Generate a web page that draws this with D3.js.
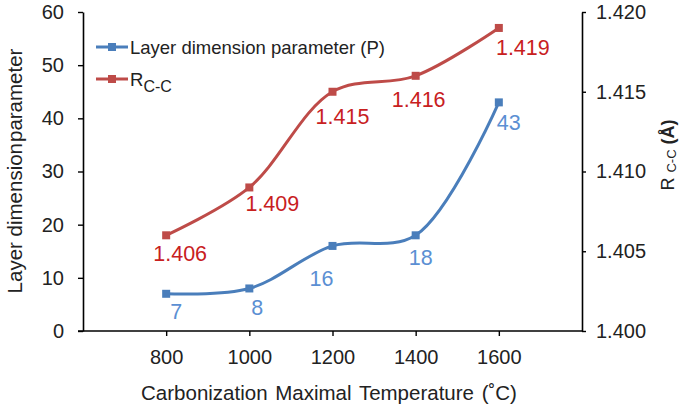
<!DOCTYPE html>
<html><head><meta charset="utf-8">
<script src="https://cdn.jsdelivr.net/npm/d3@7"></script>
<style>body{margin:0;background:#fff}svg{font-family:Arial,"Liberation Sans",sans-serif}</style>
</head><body><svg id="c" width="685" height="409"></svg>
<script>
const temps = [800, 1000, 1200, 1400, 1600];
const pValues = [7, 8, 16, 18, 43];
const rValues = [1.406, 1.409, 1.415, 1.416, 1.419];
const pLabels = ["7", "8", "16", "18", "43"];
const rLabels = ["1.406", "1.409", "1.415", "1.416", "1.419"];
const leftTicks = [0, 10, 20, 30, 40, 50, 60];
const rightTicks = [1.400, 1.405, 1.410, 1.415, 1.420];

const svg = d3.select("#c");
const L = 83, R = 582, T = 12, B = 331;
const x = d3.scaleLinear().domain([600, 1800]).range([L, R]);
const yL = d3.scaleLinear().domain([0, 60]).range([B, T]);
const yR = d3.scaleLinear().domain([1.400, 1.420]).range([B, T]);
const blue = "#4a7ebb", red = "#be4b48", blueT = "#5b8fd3", redT = "#c8201e";
const FONT = "Arial, 'Liberation Sans', sans-serif";

const gl = svg.append("g").attr("transform", `translate(${L},0)`)
  .call(d3.axisLeft(yL).tickValues(leftTicks).tickSize(5).tickPadding(14).tickSizeOuter(0));
const gr = svg.append("g").attr("transform", `translate(${R},0)`)
  .call(d3.axisRight(yR).tickValues(rightTicks).tickFormat(d3.format(".3f")).tickSize(4).tickPadding(10).tickSizeOuter(0));
const gb = svg.append("g").attr("transform", `translate(0,${B})`)
  .call(d3.axisBottom(x).tickValues(temps).tickFormat(d3.format("d")).tickSize(5).tickPadding(14).tickSizeOuter(0));
gb.select(".domain").attr("d", `M${L-5},0H${R}`);
[gl, gr, gb].forEach(g => {
  g.selectAll(".domain").attr("stroke", "#000").attr("stroke-width", 1.6);
  g.selectAll(".tick line").attr("stroke", "#000").attr("stroke-width", 1.4);
  g.selectAll("text").attr("font-size", 20).attr("fill", "#222").attr("font-family", FONT);
});

// axis titles
const lt0 = svg.append("text").attr("transform", "translate(22,171) rotate(-90)").attr("text-anchor", "middle")
  .attr("font-size", 20.5).attr("fill", "#222");
lt0.append("tspan").text("Layer dimension");
lt0.append("tspan").attr("dx", 1).text("parameter");
const rt = svg.append("text").attr("transform", "translate(674,155) rotate(-90)").attr("text-anchor", "middle")
  .attr("font-size", 18).attr("fill", "#222");
rt.append("tspan").text("R ");
rt.append("tspan").attr("font-size", 13).attr("dy", 2).text("C-C");
rt.append("tspan").attr("font-weight", "bold").attr("dy", -2).text(" (Å)");
svg.append("text").attr("x", 329).attr("y", 400).attr("text-anchor", "middle")
  .attr("font-size", 20.5).attr("fill", "#222").attr("word-spacing", 2).text("Carbonization Maximal Temperature (˚C)");

const curve = d3.curveCatmullRom.alpha(0.5);
const pData = temps.map((t, i) => ({t, v: pValues[i], l: pLabels[i]}));
const rData = temps.map((t, i) => ({t, v: rValues[i], l: rLabels[i]}));

svg.append("path").datum(rData).attr("fill", "none").attr("stroke", red).attr("stroke-width", 3)
  .attr("d", d3.line().x(d => x(d.t)).y(d => yR(d.v)).curve(curve));
svg.append("path").datum(pData).attr("fill", "none").attr("stroke", blue).attr("stroke-width", 3)
  .attr("d", d3.line().x(d => x(d.t)).y(d => yL(d.v)).curve(curve));

svg.selectAll(".mr").data(rData).enter().append("rect")
  .attr("x", d => x(d.t) - 4).attr("y", d => yR(d.v) - 4).attr("width", 8).attr("height", 8).attr("fill", red);
svg.selectAll(".mp").data(pData).enter().append("rect")
  .attr("x", d => x(d.t) - 4).attr("y", d => yL(d.v) - 4).attr("width", 8).attr("height", 8).attr("fill", blue);

// data labels (offsets from the point, text centre)
const rOff = [[14, 26], [23, 24], [10, 32], [3, 31], [24, 27]];
const pOff = [[10, 25], [8, 27], [-11, 40], [5, 30], [10, 28]];
svg.selectAll(".lr").data(rData).enter().append("text")
  .attr("x", (d, i) => x(d.t) + rOff[i][0]).attr("y", (d, i) => yR(d.v) + rOff[i][1])
  .attr("text-anchor", "middle").attr("font-size", 21.5).attr("fill", redT).text(d => d.l);
svg.selectAll(".lp").data(pData).enter().append("text")
  .attr("x", (d, i) => x(d.t) + pOff[i][0]).attr("y", (d, i) => yL(d.v) + pOff[i][1])
  .attr("text-anchor", "middle").attr("font-size", 21.5).attr("fill", blueT).text(d => d.l);

// legend
const leg = [{c: blue, y: 47}, {c: red, y: 79}];
leg.forEach(e => {
  svg.append("line").attr("x1", 96).attr("x2", 128).attr("y1", e.y).attr("y2", e.y).attr("stroke", e.c).attr("stroke-width", 3);
  svg.append("rect").attr("x", 108).attr("y", e.y - 4).attr("width", 8).attr("height", 8).attr("fill", e.c);
});
svg.append("text").attr("x", 130).attr("y", 54).attr("font-size", 18.5).attr("fill", "#222").text("Layer dimension parameter (P)");
const lt = svg.append("text").attr("x", 130).attr("y", 86).attr("font-size", 18.5).attr("fill", "#222");
lt.append("tspan").text("R");
lt.append("tspan").attr("font-size", 16).attr("dy", 6).text("C-C");
</script></body></html>
